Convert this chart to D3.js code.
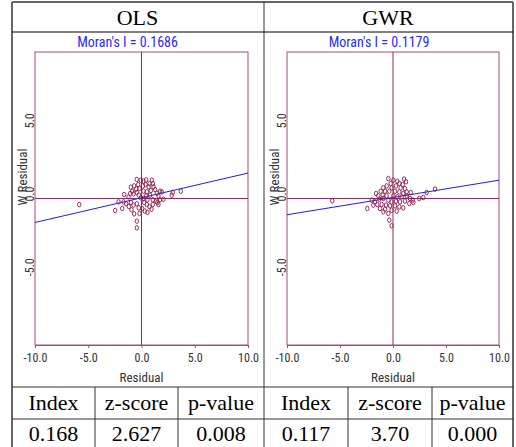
<!DOCTYPE html>
<html>
<head>
<meta charset="utf-8">
<script src="https://cdn.jsdelivr.net/npm/d3@7"></script>
<style>
body { margin: 0; background: #fff; }
</style>
</head>
<body>
<div id="chart"></div>
<script>
var w = 516;
var h = 447;

// data
var models = ["OLS", "GWR"];
var moranText = ["Moran's I = 0.1686", "Moran's I = 0.1179"];
var moranSlope = [0.1686, 0.1179];
var lineIntercept = [0.05, 0.07];
var xTicks = [-10, -5, 0, 5, 10];
var yTicks = [-5, 0, 5];
var statHeads = ["Index", "z-score", "p-value", "Index", "z-score", "p-value"];
var statVals = ["0.168", "2.627", "0.008", "0.117", "3.70", "0.000"];

var olsPoints = [
  [-0.44,1.30],[-0.06,1.25],[0.19,1.18],[0.44,1.27],[0.97,1.25],[1.06,1.02],[0.75,1.02],
  [-0.31,0.95],[-0.69,0.86],[-1.0,0.77],[0.38,0.95],[0.13,0.86],[0.66,0.80],[1.13,0.80],
  [1.28,0.61],[1.75,0.50],[1.91,0.45],[-0.19,0.68],[-0.5,0.64],[-0.88,0.5],[-1.06,0.34],
  [-0.75,0.32],[-1.63,0.27],[-1.22,0.11],[-0.44,0.41],[0.19,0.5],[0.5,0.45],[0.88,0.55],
  [1.44,0.36],[1.59,0.18],[0.81,0.23],[0.44,0.18],[-0.25,0.23],[-0.06,0.05],[0.19,0],
  [0.56,-0.09],[1.06,-0.09],[1.38,-0.18],[1.75,-0.09],[2.06,-0.05],[2.84,0.23],[2.94,0.41],
  [3.69,0.5],[-1.69,-0.23],[-1.44,-0.36],[-1.0,-0.27],[-1.19,-0.55],[-0.75,-0.45],
  [-0.44,-0.36],[-0.25,-0.64],[0.25,-0.27],[0.5,-0.41],[0.75,-0.55],[1.06,-0.41],
  [1.5,-0.27],[1.59,-0.41],[0.94,-0.73],[0.31,-0.86],[-0.19,-1.02],[-0.69,-1.05],
  [-0.94,-0.77],[-2.47,-0.82],[-1.81,-0.68],[-2.16,-0.23],[-0.44,-1.55],[-0.44,-2.0],
  [0.56,-0.95],[0.06,-0.68],[-5.85,-0.41]
];

var gwrPoints = [
  [-0.44,1.36],[0.03,1.25],[0.41,1.18],[1.04,1.32],[1.23,1.14],[0.91,0.95],[0.60,1.02],
  [-0.22,1.02],[-0.6,0.86],[-0.91,0.73],[0.28,0.86],[-0.13,0.73],[0.72,0.73],[1.13,0.68],
  [1.29,0.45],[1.67,0.41],[-1.16,0.5],[-0.75,0.5],[-0.35,0.5],[0.19,0.5],[0.6,0.45],
  [0.97,0.34],[-1.6,0.34],[-1.38,0.18],[-0.97,0.23],[-0.6,0.18],[0.03,0.18],[0.41,0.11],
  [0.82,0.11],[1.29,0.18],[1.6,0],[-2.01,-0.11],[-1.7,-0.23],[-1.29,-0.05],[-0.91,0],
  [-0.44,-0.11],[-0.13,-0.23],[0.28,-0.18],[0.66,-0.23],[1.13,-0.18],[1.54,-0.34],
  [-1.86,-0.45],[-1.48,-0.41],[-1.07,-0.41],[-0.66,-0.45],[-0.28,-0.5],[0.19,-0.5],
  [0.6,-0.57],[0.97,-0.64],[-1.23,-0.68],[-0.75,-0.73],[-0.13,-0.8],[0.35,-0.86],
  [-0.44,-1.02],[-0.91,-0.91],[-2.42,-0.68],[2.48,0],[2.86,0.07],[3.18,0.41],[3.96,0.64],
  [-0.35,-1.48],[-0.13,-1.86],[1.86,-0.11],[1.92,-0.27],[-5.73,-0.16]
];
var allPoints = [olsPoints, gwrPoints];

var frameCol = "#a84a7c";
var zeroCol = "#8e2a5c";
var dotCol = "#8b1a4a";
var narrow = "'Liberation Sans Narrow', 'Roboto Condensed', 'DejaVu Sans Condensed', sans-serif";
var serif = "'Liberation Serif', 'DejaVu Serif', serif";
var fmt = function(d) { return d.toFixed(1); };

var svg = d3.select("#chart").append("svg").attr("width", w).attr("height", h);

// table lines
var tcol = "#333";
function line(x1, y1, x2, y2, col, sw) {
  return svg.append("line").attr("x1", x1).attr("y1", y1).attr("x2", x2).attr("y2", y2)
    .attr("stroke", col).attr("stroke-width", sw);
}
line(12, 2, 513, 2, tcol, 1.5);
line(12, 2, 12, h, "#666", 2);
line(513, 2, 513, h, "#666", 2);
line(264, 2, 264, h, tcol, 1);
line(12, 32, 513, 32, "#000", 1);
line(12, 387, 513, 387, tcol, 1);
line(12, 419, 513, 419, tcol, 1);
var colX = [12, 95, 178, 264, 348, 432, 513];
for (var c = 1; c < colX.length - 1; c++) {
  if (c != 3) line(colX[c], 387, colX[c], h, tcol, 1);
}

// stats table text
for (var i = 0; i < statHeads.length; i++) {
  var cx = (colX[i] + colX[i + 1]) / 2;
  svg.append("text").text(statHeads[i]).attr("x", cx).attr("y", 410)
    .attr("text-anchor", "middle").attr("font-family", serif).attr("font-size", 22).attr("fill", "#000");
  svg.append("text").text(statVals[i]).attr("x", cx).attr("y", 441)
    .attr("text-anchor", "middle").attr("font-family", serif).attr("font-size", 22).attr("fill", "#000");
}

var panelX = [[35, 248], [287, 499]];
var headX = [137.5, 388];
var yTop = 52, yBot = 345;

for (var p = 0; p < 2; p++) {
  var x = d3.scaleLinear().domain([-10, 10]).range(panelX[p]);
  var y = d3.scaleLinear().domain([-10, 10]).range([yBot, yTop]);
  var g = svg.append("g");

  g.append("text").text(models[p]).attr("x", headX[p]).attr("y", 25)
    .attr("text-anchor", "middle").attr("font-family", serif).attr("font-size", 22).attr("fill", "#000");

  g.append("text").text(moranText[p]).attr("x", x(0) - 14).attr("y", 47)
    .attr("text-anchor", "middle").attr("font-family", narrow).attr("font-size", 14).attr("fill", "#2a2aff");

  // frame
  g.append("rect").attr("x", x(-10)).attr("y", yTop).attr("width", x(10) - x(-10)).attr("height", yBot - yTop)
    .attr("fill", "none").attr("stroke", frameCol).attr("stroke-width", 1);

  // zero lines
  g.append("line").attr("x1", x(-10)).attr("x2", x(10)).attr("y1", y(0)).attr("y2", y(0))
    .attr("stroke", zeroCol).attr("stroke-width", 1);
  g.append("line").attr("x1", x(0)).attr("x2", x(0)).attr("y1", y(-10)).attr("y2", y(10))
    .attr("stroke", zeroCol).attr("stroke-width", 1);

  // x axis
  var xa = g.append("g").attr("transform", "translate(0," + yBot + ")")
    .call(d3.axisBottom(x).tickValues(xTicks).tickFormat(fmt).tickSize(3).tickSizeOuter(0));
  xa.select(".domain").attr("stroke", frameCol);
  xa.selectAll("line").attr("stroke", frameCol);
  xa.selectAll("text").attr("font-family", narrow).attr("font-size", 12).attr("fill", "#333").attr("dy", "0.95em");

  // y axis (rotated labels)
  var ya = g.append("g").attr("transform", "translate(" + x(-10) + ",0)")
    .call(d3.axisLeft(y).tickValues(yTicks).tickFormat(fmt).tickSize(0).tickSizeOuter(0));
  ya.select(".domain").remove();
  ya.selectAll("text")
    .attr("font-family", narrow).attr("font-size", 12).attr("fill", "#333")
    .attr("x", null).attr("dy", null).attr("text-anchor", "middle")
    .attr("transform", "translate(-1,-5) rotate(-90)");

  g.append("text").text("Residual").attr("x", x(0)).attr("y", 382)
    .attr("text-anchor", "middle").attr("font-family", narrow).attr("font-size", 13).attr("fill", "#333");
  g.append("text").text("W Residual")
    .attr("transform", "translate(" + (x(-10) - 8) + ",177) rotate(-90)")
    .attr("text-anchor", "middle").attr("font-family", narrow).attr("font-size", 13).attr("fill", "#333");

  // regression line
  var s = moranSlope[p], b = lineIntercept[p];
  g.append("line").attr("x1", x(-10)).attr("y1", y(b - 10 * s)).attr("x2", x(10)).attr("y2", y(b + 10 * s))
    .attr("stroke", "#1a1aff").attr("stroke-width", 1);

  // points
  g.selectAll(".pt").data(allPoints[p]).enter().append("ellipse")
    .attr("cx", function(d) { return x(d[0]); })
    .attr("cy", function(d) { return y(d[1]); })
    .attr("rx", 1.7).attr("ry", 2.3)
    .attr("fill", "none").attr("stroke", dotCol).attr("stroke-width", 0.9);
}
</script>
</body>
</html>
